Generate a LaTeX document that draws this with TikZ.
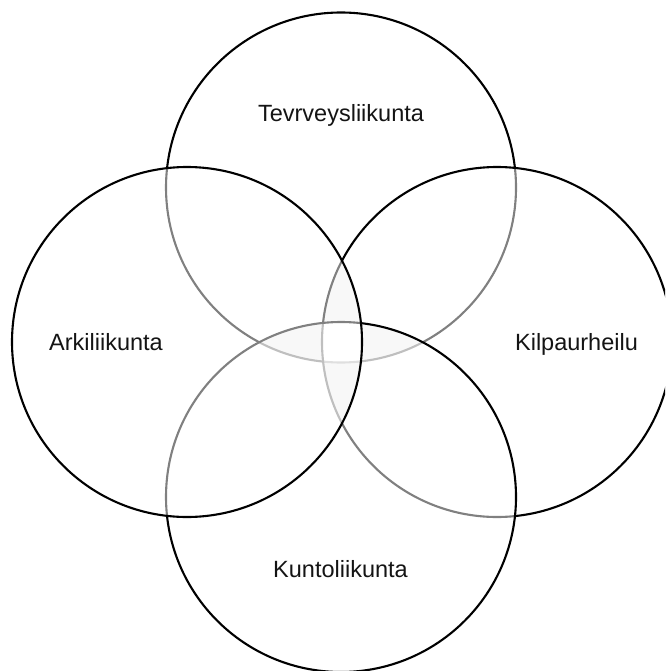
\documentclass[tikz,border=0pt]{standalone}
\usepackage{fontspec}
\setmainfont{Liberation Sans}
\begin{document}
\begin{tikzpicture}[x=1pt,y=-1pt,
  ring/.style={draw=black, line width=2.1pt, fill=white, fill opacity=0.5},
  lbl/.style={font=\fontsize{23.5}{28}\selectfont, anchor=base, inner sep=0pt, text=black!92}]
\useasboundingbox (0,0) rectangle (665,671);
\clip (0,0) rectangle (665,671);
\coordinate (T) at (341,187.5);
\coordinate (L) at (187,342);
\coordinate (R) at (497,342);
\coordinate (B) at (341,497);
% faint shading of the triple overlaps (lightened by the translucent rings)
\begin{scope}
  \clip (L) circle[radius=175pt];
  \fill[black!20] (R) circle[radius=175pt];
\end{scope}
\begin{scope}
  \clip (T) circle[radius=175pt];
  \fill[black!20] (B) circle[radius=175pt];
\end{scope}
\begin{scope}
  \clip (L) circle[radius=175pt];
  \clip (R) circle[radius=175pt];
  \clip (T) circle[radius=175pt];
  \fill[white] (B) circle[radius=175pt];
\end{scope}
% rings, bottom-most first
\draw[ring] (T) circle[radius=175pt];
\draw[ring] (R) circle[radius=175pt];
\draw[ring] (B) circle[radius=175pt];
\draw[ring] (L) circle[radius=175pt];
% labels
\node[lbl] (tT) at (341,122) {Tevrveysliikunta};
\node[lbl] (tL) at (106,350) {Arkiliikunta};
\node[lbl] (tR) at (576.5,350) {Kilpaurheilu};
\node[lbl] (tB) at (340.5,577.5) {Kuntoliikunta};
\end{tikzpicture}
\end{document}
